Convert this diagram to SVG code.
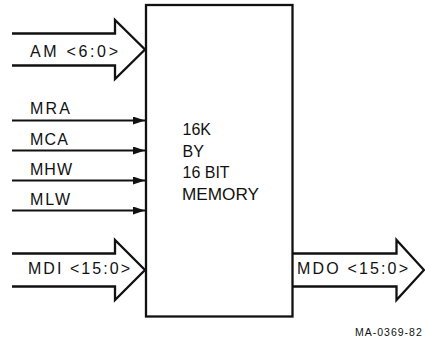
<svg xmlns="http://www.w3.org/2000/svg" width="425" height="349" viewBox="0 0 425 349">
<style>
.ln{fill:none;stroke:#111;stroke-width:2.3;stroke-linejoin:miter}
.sig{fill:none;stroke:#111;stroke-width:2.2}
.lbl{font-family:"Liberation Sans",Arial,sans-serif;font-size:16px;fill:#111}
.mem{font-family:"Liberation Sans",Arial,sans-serif;font-size:16px;fill:#111}
.note{font-family:"Liberation Sans",Arial,sans-serif;font-size:10.5px;fill:#111;letter-spacing:1px}
</style>
<defs>
<marker id="ah" viewBox="0 0 12 8" refX="12" refY="4" markerWidth="12" markerHeight="8" markerUnits="userSpaceOnUse" orient="auto">
<path d="M0,0 L12,4 L0,8 Z" fill="#111"/>
</marker>
</defs>
<rect width="425" height="349" fill="#fff"/>
<g id="memory">
<rect x="146" y="5" width="146.5" height="311.5" class="ln"/>
<text class="mem" x="182.5" y="135">16K</text>
<text class="mem" x="182.5" y="156.5">BY</text>
<text class="mem" x="182.5" y="178">16 BIT</text>
<text class="mem" x="182" y="199.5" textLength="77" lengthAdjust="spacingAndGlyphs">MEMORY</text>
</g>
<g id="connectors">
<g id="am">
<path class="ln" d="M12,33.5 H115 V20 L145,49.5 L115,79 V65.5 H12"/>
<text class="lbl" x="30" y="56.7" textLength="88">AM &lt;6:0&gt;</text>
</g>
<g id="mra">
<line class="sig" x1="12" y1="120.5" x2="145" y2="120.5" marker-end="url(#ah)"/>
<text class="lbl" x="30" y="114.3" textLength="40">MRA</text>
</g>
<g id="mca">
<line class="sig" x1="12" y1="150.5" x2="145" y2="150.5" marker-end="url(#ah)"/>
<text class="lbl" x="30" y="145" textLength="38">MCA</text>
</g>
<g id="mhw">
<line class="sig" x1="12" y1="180.5" x2="145" y2="180.5" marker-end="url(#ah)"/>
<text class="lbl" x="30" y="175" textLength="42">MHW</text>
</g>
<g id="mlw">
<line class="sig" x1="12" y1="210.5" x2="145" y2="210.5" marker-end="url(#ah)"/>
<text class="lbl" x="30" y="205" textLength="40">MLW</text>
</g>
<g id="mdi">
<path class="ln" d="M12,253.5 H115 V240 L145,270 L115,300 V286.5 H12"/>
<text class="lbl" x="28" y="274.3" textLength="102">MDI &lt;15:0&gt;</text>
</g>
<g id="mdo">
<path class="ln" d="M292.5,253.5 H396.5 V240 L424,270 L396.5,300 V286.5 H292.5"/>
<text class="lbl" x="297" y="274" textLength="111">MDO &lt;15:0&gt;</text>
</g>
</g>
<text class="note" x="355" y="336">MA-0369-82</text>
</svg>
